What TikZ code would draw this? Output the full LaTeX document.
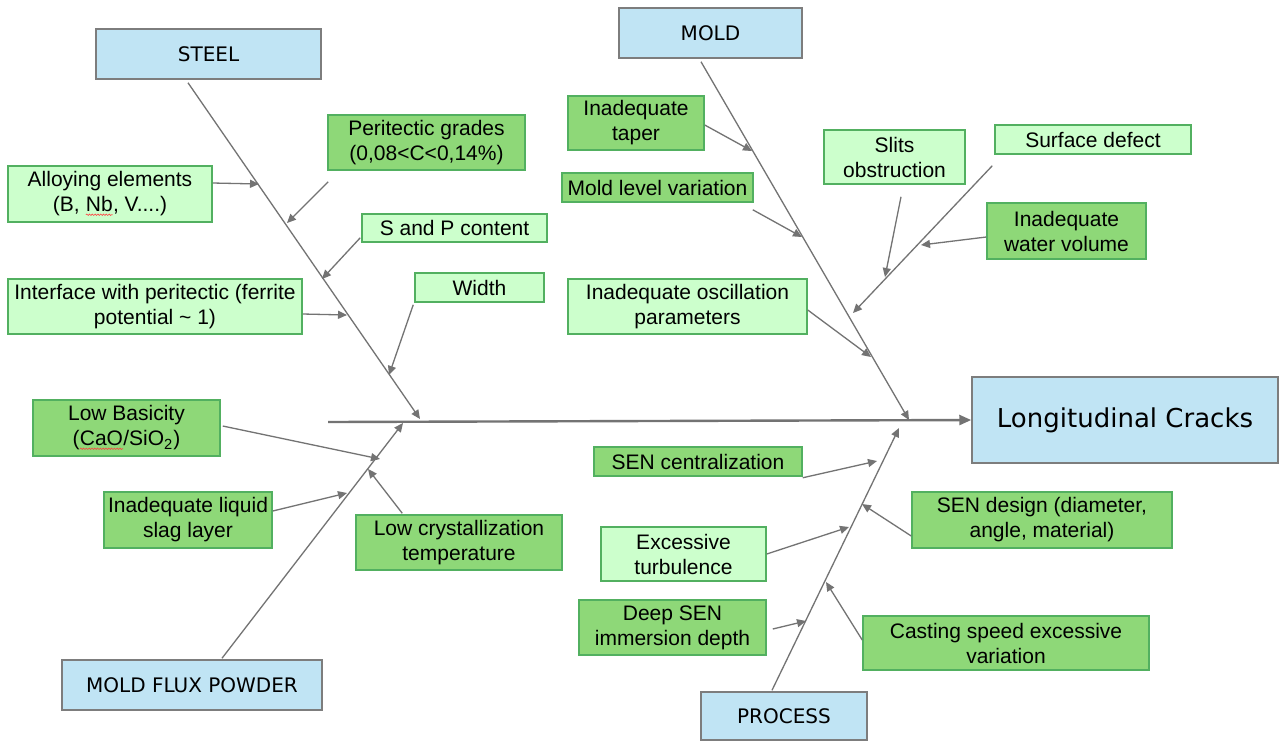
\documentclass[tikz,border=0pt]{standalone}
\usepackage{fontspec}
\setmainfont{Liberation Sans}
\newfontfamily\catfont{DejaVu Sans}
\usetikzlibrary{arrows.meta,decorations.pathmorphing}
\definecolor{catblue}{RGB}{192,228,244}
\definecolor{catedge}{RGB}{125,125,125}
\definecolor{lgreen}{RGB}{204,255,204}
\definecolor{mgreen}{RGB}{142,216,120}
\definecolor{gedge}{RGB}{82,176,96}
\definecolor{lineg}{RGB}{115,115,115}
\newcommand\wavyul[1]{\tikz[baseline=(w.base)]{\node[inner sep=0pt,outer sep=0pt,minimum width=0pt,minimum height=0pt,draw=none,fill=none](w){#1};\draw[red!75,line width=0.3pt,decorate,decoration={snake,amplitude=0.35pt,segment length=1.4pt}] ([yshift=-1.3pt]w.south west)--([yshift=-1.3pt]w.south east);}}
\begin{document}
\begin{tikzpicture}[x=0.5pt,y=-0.5pt,
  cat/.style={draw=catedge, fill=catblue, line width=0.75pt, inner sep=0pt, font=\catfont\fontsize{10}{12}\selectfont},
  cause/.style={draw=gedge, line width=0.75pt, inner sep=0pt, align=center, font=\fontsize{10.5}{12.5}\selectfont},
  lcause/.style={cause, fill=lgreen},
  mcause/.style={cause, fill=mgreen},
  bone/.style={draw=lineg, line width=0.65pt, -{Triangle[length=4.5pt,width=4pt]}},
  spine/.style={draw=lineg, line width=1.2pt, -{Triangle[length=6pt,width=5pt]}}]
\fill[white] (0,0) rectangle (1279,741);
\useasboundingbox (0,0) rectangle (1279,741);

% category boxes
\node[cat, minimum width=112.5pt, minimum height=25pt] (steel) at (208.5,54) {STEEL};
\node[cat, minimum width=91.5pt, minimum height=25pt] (mold) at (710.5,33) {MOLD};
\node[cat, minimum width=130pt, minimum height=25pt] (flux) at (192,685) {MOLD FLUX POWDER};
\node[cat, minimum width=83pt, minimum height=24pt] (process) at (784,716) {PROCESS};
\node[cat, minimum width=153pt, minimum height=43pt, font=\catfont\fontsize{13}{15}\selectfont] (cracks) at (1125,420) {Longitudinal Cracks};

% steel causes
\node[lcause, minimum width=102pt, minimum height=28pt] (alloy) at (110,194) {Alloying elements\\(B, \wavyul{Nb}, V....)};
\node[mcause, minimum width=98.5pt, minimum height=27.5pt] (perit) at (426.5,142.5) {Peritectic grades\\(0,08<C<0,14\%)};
\node[lcause, minimum width=92.5pt, minimum height=14pt] (sp) at (454.5,228) {S and P content};
\node[lcause, minimum width=147pt, minimum height=27.5pt] (iface) at (155,306.5) {Interface with peritectic (ferrite\\potential \textasciitilde{} 1)};
\node[lcause, minimum width=64.5pt, minimum height=14.5pt] (width) at (479.5,287.5) {Width};

% mold causes
\node[mcause, minimum width=68pt, minimum height=27pt] (taper) at (636,123) {Inadequate\\taper};
\node[mcause, minimum width=95.5pt, minimum height=14.5pt] (mlevel) at (657.5,187.5) {Mold level variation};
\node[lcause, minimum width=119.5pt, minimum height=27.5pt] (osc) at (687.5,306.5) {Inadequate oscillation\\parameters};
\node[lcause, minimum width=70.5pt, minimum height=27pt] (slits) at (894.5,157) {Slits\\obstruction};
\node[lcause, minimum width=98pt, minimum height=14.5pt] (surf) at (1093,139.5) {Surface defect};
\node[mcause, minimum width=79.5pt, minimum height=28pt] (water) at (1066.5,231) {Inadequate\\water volume};

% flux causes
\node[mcause, minimum width=93.5pt, minimum height=28pt] (basic) at (126.5,428) {Low Basicity\\(\wavyul{CaO}/SiO\textsubscript{2})};
\node[mcause, minimum width=84pt, minimum height=28pt] (slag) at (188,520) {Inadequate liquid\\slag layer};
\node[mcause, minimum width=103pt, minimum height=27.5pt] (cryst) at (459,542.5) {Low crystallization\\temperature};

% process causes
\node[mcause, minimum width=104pt, minimum height=14.5pt] (sencen) at (698,461.5) {SEN centralization};
\node[mcause, minimum width=130pt, minimum height=28pt] (sendes) at (1042,520) {SEN design (diameter,\\angle, material)};
\node[lcause, minimum width=82.5pt, minimum height=27pt] (turb) at (683.5,554) {Excessive\\turbulence};
\node[mcause, minimum width=93.5pt, minimum height=27.5pt] (deep) at (672.5,627.5) {Deep SEN\\immersion depth};
\node[mcause, minimum width=143pt, minimum height=27pt] (cast) at (1006,643) {Casting speed excessive\\variation};

% coordinates
\coordinate (s0) at (328,422);
\coordinate (jS) at (420,419);
\coordinate (jM) at (909,420);
\coordinate (jF) at (403,423);
\coordinate (jP) at (899,428);
\coordinate (tAlloy) at (259,184);
\coordinate (tPerit) at (287,223);
\coordinate (tSP) at (322,279);
\coordinate (tIface) at (347,315);
\coordinate (tWidth) at (389,375);
\coordinate (tTaper) at (752,151);
\coordinate (tMlevel) at (802,237);
\coordinate (tOsc) at (871,357);
\coordinate (tSurf) at (853,313);
\coordinate (tSlits) at (885,277);
\coordinate (tWater) at (921,245);
\coordinate (tBasic) at (380,459);
\coordinate (tSlag) at (347,493);
\coordinate (tCryst) at (368,469);
\coordinate (tSencen) at (877,461);
\coordinate (tSendes) at (862,504);
\coordinate (tTurb) at (849,527);
\coordinate (tDeep) at (806,621);
\coordinate (tCast) at (826,582);

% spine and main bones
\draw[spine] (s0) -- (cracks.west);
\draw[bone] ([xshift=-10.25pt,yshift=-1.5pt]steel.south) -- (jS);
\draw[bone] ([xshift=-4.75pt,yshift=-1.5pt]mold.south) -- (jM);
\draw[bone] ([xshift=15pt,yshift=0.5pt]flux.north) -- (jF);
\draw[bone] ([xshift=-6pt,yshift=0.5pt]process.north) -- (jP);

% sub arrows
\draw[bone] ([yshift=5.5pt]alloy.east) -- (tAlloy);
\draw[bone] ([xshift=0.5pt,yshift=-5.5pt]perit.south west) -- (tPerit);
\draw[bone] ([xshift=-0.5pt,yshift=2.5pt]sp.south west) -- (tSP);
\draw[bone] ([yshift=-3.75pt]iface.east) -- (tIface);
\draw[bone] ([xshift=-0.5pt,yshift=-1pt]width.south west) -- (tWidth);
\draw[bone] ([yshift=-1pt]taper.east) -- (tTaper);
\draw[bone] ([xshift=-0.5pt,yshift=-3.5pt]mlevel.south east) -- (tMlevel);
\draw[bone] ([yshift=-1.75pt]osc.east) -- (tOsc);
\draw[bone] ([xshift=-1pt,yshift=-5.5pt]surf.south west) -- (tSurf);
\draw[bone] ([xshift=3.25pt,yshift=-6pt]slits.south) -- (tSlits);
\draw[bone] ([yshift=-3pt]water.west) -- (tWater);
\draw[bone] ([xshift=1pt,yshift=1pt]basic.east) -- (tBasic);
\draw[bone] ([yshift=4.5pt]slag.east) -- (tSlag);
\draw[bone] ([xshift=23.5pt,yshift=0.5pt]cryst.north west) -- (tCryst);
\draw[bone] ([yshift=-0.5pt]sencen.south east) -- (tSencen);
\draw[bone] ([yshift=-8pt]sendes.west) -- (tSendes);
\draw[bone] (turb.east) -- (tTurb);
\draw[bone] ([xshift=3pt,yshift=-0.75pt]deep.east) -- (tDeep);
\draw[bone] ([yshift=1.5pt]cast.west) -- (tCast);
\end{tikzpicture}
\end{document}
